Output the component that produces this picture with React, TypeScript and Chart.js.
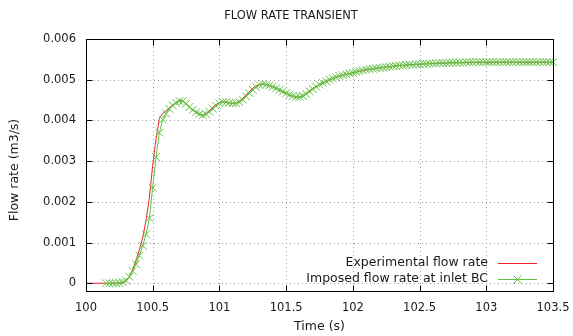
import { useEffect, useRef } from 'react';
import { Chart, registerables } from 'chart.js';

Chart.register(...registerables);

const TITLE = 'FLOW RATE TRANSIENT';
const X_LABEL = 'Time (s)';
const Y_LABEL = 'Flow rate (m3/s)';
const RED_NAME = 'Experimental flow rate';
const GREEN_NAME = 'Imposed flow rate at inlet BC';

const X_TICKS = [100, 100.5, 101, 101.5, 102, 102.5, 103, 103.5];
const Y_TICKS = [0, 0.001, 0.002, 0.003, 0.004, 0.005, 0.006];
const X_MIN = 100;
const X_MAX = 103.5;
const Y_MIN = -0.00019;
const Y_MAX = 0.006;

const RED_TIME = [
  100.0, 100.1, 100.2, 100.25,
  100.275, 100.3, 100.325, 100.35, 100.375, 100.4, 100.425, 100.45, 100.475, 100.5,
  100.525, 100.55, 100.575, 100.6, 100.625, 100.65, 100.675, 100.7, 100.725, 100.75,
  100.775, 100.8, 100.825, 100.85, 100.875, 100.9, 100.925, 100.95, 100.975, 101.0,
  101.025, 101.05, 101.075, 101.1, 101.125, 101.15, 101.175, 101.2, 101.225, 101.25,
  101.275, 101.3, 101.325, 101.35, 101.375, 101.4, 101.425, 101.45, 101.475, 101.5,
  101.525, 101.55, 101.575, 101.6, 101.625, 101.65, 101.675, 101.7,
  101.75, 101.8, 101.85, 101.9, 101.95, 102.0,
  102.1, 102.2, 102.3, 102.4, 102.5, 102.6, 102.7, 102.8, 102.9, 103.0,
  103.2, 103.5,
];
const RED_FLOW = [
  0, 0, 0, 0,
  0.00001, 0.00005, 0.00015, 0.00033, 0.00056, 0.00082, 0.00112, 0.00155, 0.0021, 0.0029,
  0.00355, 0.00405, 0.00417, 0.00424, 0.00431, 0.00438, 0.00445, 0.00449, 0.00448, 0.00441,
  0.00433, 0.00425, 0.00419, 0.00415, 0.00412, 0.00417, 0.00424, 0.00432, 0.00439, 0.00444,
  0.00446, 0.00445, 0.00443, 0.00442, 0.00443, 0.00447, 0.00455, 0.00463, 0.00471, 0.00479,
  0.00485, 0.00488, 0.00489, 0.00488, 0.00485, 0.00482, 0.00478, 0.00474, 0.0047, 0.00466,
  0.00462, 0.00459, 0.00457, 0.00457, 0.00461, 0.00467, 0.00473, 0.00479,
  0.00488, 0.00496, 0.00503, 0.00509, 0.00513, 0.00517,
  0.00524, 0.00529, 0.00533, 0.00536, 0.00538, 0.0054, 0.00541, 0.00542, 0.00542, 0.00543,
  0.00543, 0.00543,
];

const GREEN_TIME = [
  100.15, 100.175, 100.2, 100.225, 100.25, 100.275, 100.3, 100.325, 100.35, 100.375,
  100.4, 100.425, 100.45, 100.475, 100.5, 100.525, 100.55, 100.575, 100.6, 100.625,
  100.65, 100.675, 100.7, 100.725, 100.75, 100.775, 100.8, 100.825, 100.85, 100.875,
  100.9, 100.925, 100.95, 100.975, 101.0, 101.025, 101.05, 101.075, 101.1, 101.125,
  101.15, 101.175, 101.2, 101.225, 101.25, 101.275, 101.3, 101.325, 101.35, 101.375,
  101.4, 101.425, 101.45, 101.475, 101.5, 101.525, 101.55, 101.575, 101.6, 101.625,
  101.65, 101.675, 101.7, 101.725, 101.75, 101.775, 101.8, 101.825, 101.85, 101.875,
  101.9, 101.925, 101.95, 101.975, 102.0, 102.025, 102.05, 102.075, 102.1, 102.125,
  102.15, 102.175, 102.2, 102.225, 102.25, 102.275, 102.3, 102.325, 102.35, 102.375,
  102.4, 102.425, 102.45, 102.475, 102.5, 102.525, 102.55, 102.575, 102.6, 102.625,
  102.65, 102.675, 102.7, 102.725, 102.75, 102.775, 102.8, 102.825, 102.85, 102.875,
  102.9, 102.925, 102.95, 102.975, 103.0, 103.025, 103.05, 103.075, 103.1, 103.125,
  103.15, 103.175, 103.2, 103.225, 103.25, 103.275, 103.3, 103.325, 103.35, 103.375,
  103.4, 103.425, 103.45, 103.475, 103.5,
];
const GREEN_FLOW = [
  0, 0, 0, 0, 0.00001, 0.00003, 0.00007, 0.00016, 0.0003, 0.00047,
  0.00068, 0.00092, 0.0012, 0.0016, 0.00235, 0.0031, 0.0037, 0.00402, 0.00417, 0.00428,
  0.00437, 0.00443, 0.00447, 0.00447, 0.00441, 0.00433, 0.00426, 0.0042, 0.00416, 0.00413,
  0.00415, 0.00421, 0.00429, 0.00436, 0.00442, 0.00445, 0.00445, 0.00443, 0.00442, 0.00442,
  0.00445, 0.00451, 0.00459, 0.00467, 0.00475, 0.00482, 0.00487, 0.00489, 0.00488, 0.00486,
  0.00483, 0.00479, 0.00475, 0.00471, 0.00467, 0.00463, 0.0046, 0.00458, 0.00458, 0.0046,
  0.00465, 0.00471, 0.00477, 0.00483, 0.00488, 0.00492, 0.00496, 0.005, 0.00503, 0.00506,
  0.00509, 0.00511, 0.00513, 0.00515, 0.00517, 0.00519, 0.00521, 0.00523, 0.00525, 0.00526,
  0.00527, 0.00528, 0.00529, 0.0053, 0.00531, 0.00532, 0.00533, 0.00534, 0.00535, 0.00535,
  0.00536, 0.00537, 0.00537, 0.00538, 0.00538, 0.00539, 0.00539, 0.0054, 0.0054, 0.0054,
  0.00541, 0.00541, 0.00541, 0.00542, 0.00542, 0.00542, 0.00542, 0.00542, 0.00543, 0.00543,
  0.00543, 0.00543, 0.00543, 0.00543, 0.00543, 0.00543, 0.00543, 0.00543, 0.00543, 0.00543,
  0.00543, 0.00543, 0.00543, 0.00543, 0.00543, 0.00543, 0.00543, 0.00543, 0.00543, 0.00543,
  0.00543, 0.00543, 0.00543, 0.00543, 0.00543,
];

const RED = '#f0202a';
const GREEN = '#62c245';
const FONT = '"DejaVu Sans", sans-serif';
const TEXT = '#1a1a1a';

export default function App() {
  const ref = useRef<HTMLCanvasElement>(null);

  useEffect(() => {
    if (!ref.current) return;

    const framePlugin = {
      id: 'gnuframe',
      beforeDatasetsDraw(chart: any) {
        const { ctx, chartArea: a, scales } = chart;
        const x = scales.x, y = scales.y;
        ctx.save();
        ctx.strokeStyle = '#a0a0a0';
        ctx.lineWidth = 1;
        ctx.setLineDash([1, 3]);
        for (const v of X_TICKS) {
          const px = Math.round(x.getPixelForValue(v)) + 0.5;
          if (px <= a.left + 2 || px >= a.right - 2) continue;
          ctx.beginPath(); ctx.moveTo(px, a.top); ctx.lineTo(px, a.bottom); ctx.stroke();
        }
        for (const v of Y_TICKS) {
          const py = Math.round(y.getPixelForValue(v)) + 0.5;
          if (py <= a.top + 2 || py >= a.bottom - 2) continue;
          ctx.beginPath(); ctx.moveTo(a.left, py); ctx.lineTo(a.right, py); ctx.stroke();
        }
        ctx.restore();
      },
      afterDatasetsDraw(chart: any) {
        const { ctx, chartArea: a, scales } = chart;
        const x = scales.x, y = scales.y;
        const L = Math.round(a.left) + 0.5, R = Math.round(a.right) + 0.5;
        const T = Math.round(a.top) + 0.5, B = Math.round(a.bottom) + 0.5;
        ctx.save();
        ctx.strokeStyle = '#000';
        ctx.lineWidth = 1;
        ctx.setLineDash([]);
        ctx.strokeRect(L, T, R - L, B - T);
        const tl = 6;
        ctx.beginPath();
        for (const v of X_TICKS) {
          const px = Math.round(x.getPixelForValue(v)) + 0.5;
          ctx.moveTo(px, B); ctx.lineTo(px, B - tl);
          ctx.moveTo(px, T); ctx.lineTo(px, T + tl);
        }
        for (const v of Y_TICKS) {
          const py = Math.round(y.getPixelForValue(v)) + 0.5;
          ctx.moveTo(L, py); ctx.lineTo(L + tl, py);
          ctx.moveTo(R, py); ctx.lineTo(R - tl, py);
        }
        ctx.stroke();

        // legend (key) inside the plot, bottom right
        ctx.font = '12.5px ' + FONT;
        ctx.textAlign = 'right';
        ctx.textBaseline = 'middle';
        const rows = [
          { name: RED_NAME, color: RED, y: 263, marker: false },
          { name: GREEN_NAME, color: GREEN, y: 279, marker: true },
        ];
        for (const r of rows) {
          ctx.fillStyle = TEXT;
          ctx.fillText(r.name, 488, r.y);
          ctx.fillStyle = r.color;
          ctx.fillRect(498, r.y, 39, 1);
          if (r.marker) {
            ctx.strokeStyle = r.color;
            ctx.lineWidth = 1;
            const cx = 517.5, cy = r.y + 0.5, d = 4;
            ctx.beginPath();
            ctx.moveTo(cx - d, cy - d); ctx.lineTo(cx + d, cy + d);
            ctx.moveTo(cx - d, cy + d); ctx.lineTo(cx + d, cy - d);
            ctx.stroke();
          }
        }
        ctx.restore();
      },
      afterDraw(chart: any) {
        const { ctx, chartArea: a } = chart;
        ctx.save();
        ctx.fillStyle = TEXT;
        ctx.textAlign = 'center';
        ctx.textBaseline = 'middle';
        ctx.font = '11.5px ' + FONT;
        ctx.fillText(TITLE, 291, 16);
        ctx.font = '12.5px ' + FONT;
        ctx.fillText(X_LABEL, (a.left + a.right) / 2, 327);
        ctx.translate(15, 170);
        ctx.rotate(-Math.PI / 2);
        ctx.fillText(Y_LABEL, 0, 0);
        ctx.restore();
      },
    };

    const chart = new Chart(ref.current, {
      type: 'line',
      data: {
        datasets: [
          {
            label: GREEN_NAME,
            data: GREEN_TIME.map((t, i) => ({ x: t, y: GREEN_FLOW[i] })),
            borderColor: GREEN,
            backgroundColor: GREEN,
            borderWidth: 1,
            pointStyle: 'crossRot',
            pointRadius: 5.5,
            pointBorderWidth: 1,
            pointBorderColor: GREEN,
            tension: 0,
            fill: false,
            clip: false as any,
            order: 0,
          },
          {
            label: RED_NAME,
            data: RED_TIME.map((t, i) => ({ x: t, y: RED_FLOW[i] })),
            borderColor: RED,
            backgroundColor: RED,
            borderWidth: 1,
            pointRadius: 0,
            tension: 0,
            fill: false,
            order: 1,
          },
        ],
      },
      options: {
        animation: false,
        responsive: false,
        maintainAspectRatio: false,
        layout: { padding: { top: 39, right: 20, left: 0, bottom: 0 } },
        plugins: {
          legend: { display: false },
          title: { display: false },
          tooltip: { enabled: false },
        },
        scales: {
          x: {
            type: 'linear',
            min: X_MIN,
            max: X_MAX,
            grid: { display: false, drawTicks: false },
            border: { display: false },
            afterBuildTicks: (s: any) => { s.ticks = X_TICKS.map((v) => ({ value: v })); },
            afterFit: (s: any) => {
              s.height = 45;
              s.paddingLeft = 0;
              s.paddingRight = 0;
            },
            ticks: {
              padding: 10,
              maxRotation: 0,
              autoSkip: false,
              color: TEXT,
              font: { family: FONT, size: 11.5 },
              callback: (v: any) => String(v),
            },
          },
          y: {
            type: 'linear',
            min: Y_MIN,
            max: Y_MAX,
            grid: { display: false, drawTicks: false },
            border: { display: false },
            afterBuildTicks: (s: any) => { s.ticks = Y_TICKS.map((v) => ({ value: v })); },
            afterFit: (s: any) => {
              s.width = 86;
              s.paddingTop = 0;
              s.paddingBottom = 0;
            },
            ticks: {
              padding: 10,
              autoSkip: false,
              color: TEXT,
              font: { family: FONT, size: 11.5 },
              callback: (v: any) => (v === 0 ? '0' : Number(v).toFixed(3)),
            },
          },
        },
      },
      plugins: [framePlugin],
    });

    return () => chart.destroy();
  }, []);

  return (
    <div style={{ position: 'absolute', left: 0, top: 0, width: 573, height: 336, background: '#fff' }}>
      <canvas ref={ref} width={573} height={336} />
    </div>
  );
}
